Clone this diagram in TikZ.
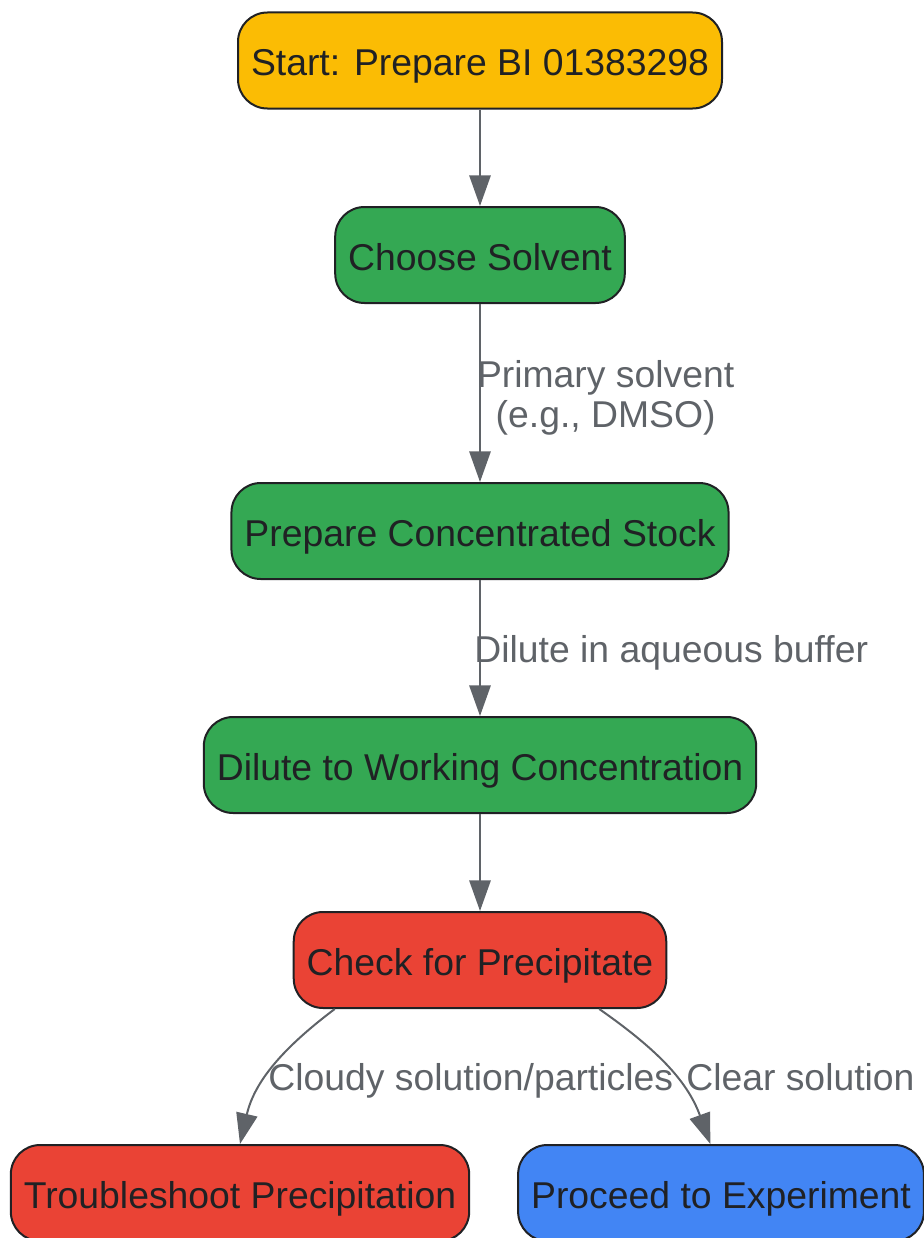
\documentclass[tikz,border=0pt]{standalone}
\usepackage{fontspec}
\setmainfont{Liberation Sans}
\usetikzlibrary{arrows.meta,positioning}
\definecolor{gyellow}{HTML}{FBBC04}
\definecolor{ggreen}{HTML}{34A853}
\definecolor{gred}{HTML}{EA4335}
\definecolor{gblue}{HTML}{4285F4}
\definecolor{gline}{HTML}{5F6368}
\definecolor{gink}{HTML}{202124}

\begin{document}
\begin{tikzpicture}[on grid,
  box/.style={draw=gink,line width=1.5pt,rounded corners=22pt,minimum height=72pt,
    inner xsep=9.75pt,text height=24pt,text depth=1pt,text=gink,font=\fontsize{28}{30}\selectfont},
  flow/.style={draw=gline,line width=1.5pt,-{Triangle[length=23pt,width=16pt]}},
  lbl/.style={text=gline,font=\fontsize{28}{30}\selectfont,inner sep=0pt,align=center}]
  \useasboundingbox (0,0) rectangle (693pt,-928.5pt);
  \node[box,fill=gyellow] (start) at (360pt,-45.375pt) {Start: Prepare BI 01383298};
  \node[box,fill=ggreen] (solv) [below=145.875pt of start] {Choose Solvent};
  \node[box,fill=ggreen] (stock) [below=207pt of solv] {Prepare Concentrated Stock};
  \node[box,fill=ggreen] (dil) [below=175.5pt of stock] {Dilute to Working Concentration};
  \node[box,fill=gred] (chk) [below=146.25pt of dil] {Check for Precipitate};
  \node[box,fill=gred] (trb) [below left=174.75pt and 180pt of chk] {Troubleshoot Precipitation};
  \node[box,fill=gblue] (go) [below right=174.75pt and 180.75pt of chk] {Proceed to Experiment};
  % connectors
  \draw[flow] (start) -- (solv);
  \draw[flow] (solv) -- node[lbl,right,xshift=-3pt,yshift=-3.5pt] {Primary solvent\\(e.g., DMSO)} (stock);
  \draw[flow] (stock) -- node[lbl,right,xshift=-5pt,yshift=-4pt] {Dilute in aqueous buffer} (dil);
  \draw[flow] (dil) -- (chk);
  \draw[flow] ([xshift=31.5pt]chk.south west) to[out=-143,in=77]
    node[lbl,pos=0.6,right,xshift=2pt] {Cloudy solution/particles} (trb.north);
  \draw[flow] ([xshift=-51pt]chk.south east) to[out=-35,in=110]
    node[lbl,pos=0.58,right,xshift=7.5pt] {Clear solution} ([xshift=-8pt]go.north);
\end{tikzpicture}
\end{document}
